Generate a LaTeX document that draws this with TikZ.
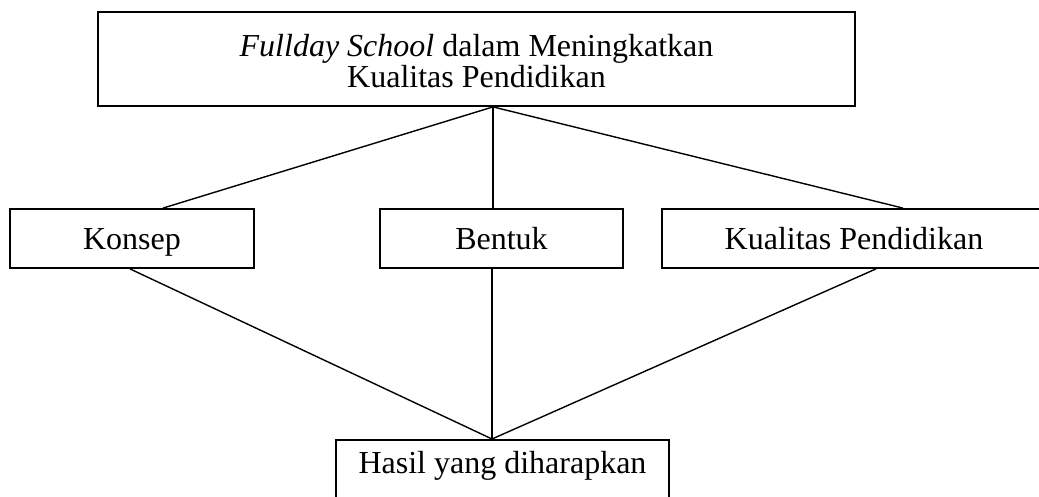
\documentclass[tikz,border=0pt]{standalone}
\usepackage{fontspec}
\setmainfont{Liberation Serif}
\usetikzlibrary{calc}

\begin{document}
\begin{tikzpicture}[x=0.5pt, y=-0.5pt, line width=0.7pt,
    kotak/.style={draw, line width=0.9pt, inner sep=0pt, text height=10.6pt, text depth=0pt,
      font={\fontsize{16}{14}\selectfont\lineskiplimit=-20pt}, minimum height=29.5pt}]
      \clip (0,0) rectangle (1039,497);

      \node at (476.5,59) [kotak, align=center, minimum width=378.5pt, minimum height=47pt,
        text height=28.5pt, name=judul]
      {\textit{Fullday School} dalam Meningkatkan\\[1.5pt]Kualitas Pendidikan};

      \node at (132,238.5) [kotak, minimum width=122pt, name=konsep] {Konsep};
      \node at (501.5,238.5) [kotak, minimum width=121.5pt, name=bentuk] {Bentuk};
      \node at (854,238.5) [kotak, minimum width=192pt, name=kualitas] {Kualitas Pendidikan};

      \node at (502.5,439) [kotak, anchor=north, minimum width=166.5pt, minimum height=0pt,
        inner ysep=6.4pt, text depth=9.6pt, name=hasil] {Hasil yang diharapkan};

      % titik temu garis
      \coordinate (atas) at ([xshift=8.25pt]judul.south);
      \coordinate (bawah) at ([xshift=-5.25pt]hasil.north);

      \draw (atas) -- ([xshift=15.5pt]konsep.north);
      \draw (atas) -- (atas |- bentuk.north);
      \draw (atas) -- ([xshift=24.5pt]kualitas.north);

      \draw ([xshift=-1pt]konsep.south) -- (bawah);
      \draw (bawah |- bentuk.south) -- (bawah);
      \draw ([xshift=11pt]kualitas.south) -- (bawah);

    \end{tikzpicture}
\end{document}
